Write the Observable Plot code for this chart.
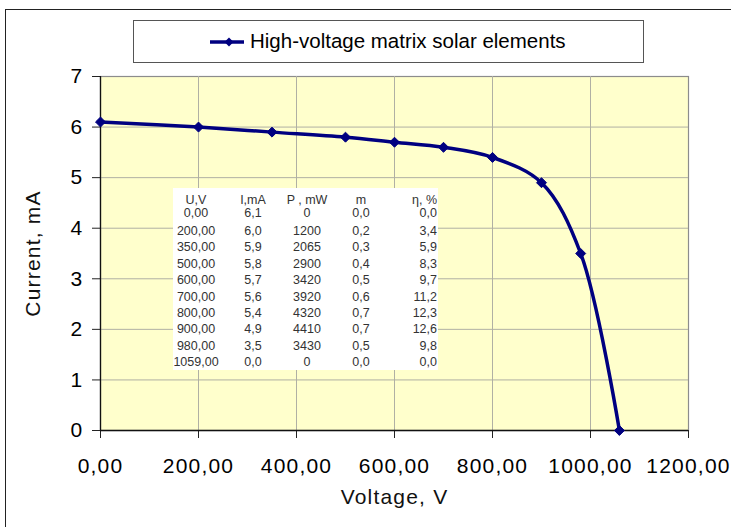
<!DOCTYPE html>
<html>
<head>
<meta charset="utf-8">
<script src="https://cdn.jsdelivr.net/npm/d3@7"></script>
<script src="https://cdn.jsdelivr.net/npm/@observablehq/plot@0.6"></script>
<style>
  html, body { margin: 0; padding: 0; background: #fff; }
  #chart { position: relative; width: 731px; height: 527px; overflow: hidden; font-family: "Liberation Sans", Arial, sans-serif; }
  #chart > svg { position: absolute; left: 0; top: 0; }
  #chart > svg g[aria-label="x-axis tick label"] text,
  #chart > svg g[aria-label="y-axis tick label"] text { letter-spacing: 1.2px; }
  #chart > svg g.title text { letter-spacing: 1.2px; }
  #frameline { position: absolute; left: 5px; top: 9px; width: 800px; height: 600px; border-left: 1.5px solid #222; border-top: 1.5px solid #222; }
  #legend { position: absolute; left: 133px; top: 20px; width: 509px; height: 41px; border: 1.5px solid #555; background: #fff; }
  #legend svg { position: absolute; left: 0; top: 0; }
  #legend span { position: absolute; left: 116px; top: 8px; font-size: 20.5px; color: #000; white-space: nowrap; }
  #table { position: absolute; left: 173px; top: 188px; width: 265px; height: 182px; background: #fff; font-size: 12.5px; color: #333; }
  #table div { position: absolute; white-space: nowrap; line-height: 12px; }
</style>
</head>
<body>
<div id="chart">
  <div id="frameline"></div>
</div>
<script>
// Measured I–V characteristic of the high-voltage matrix solar elements
const voltage = [0, 200, 350, 500, 600, 700, 800, 900, 980, 1059];
const current = [6.1, 6.0, 5.9, 5.8, 5.7, 5.6, 5.4, 4.9, 3.5, 0.0];
const power = [0, 1200, 2065, 2900, 3420, 3920, 4320, 4410, 3430, 0];
const fillFactor = [0.0, 0.2, 0.3, 0.4, 0.5, 0.6, 0.7, 0.7, 0.5, 0.0];
const efficiency = [0.0, 3.4, 5.9, 8.3, 9.7, 11.2, 12.3, 12.6, 9.8, 0.0];

const tableHeaders = ["U,V", "I,mA", "P , mW", "m", "η, %"];
const xTicks = [0, 200, 400, 600, 800, 1000, 1200];
const yTicks = [0, 1, 2, 3, 4, 5, 6, 7];
const seriesName = "High-voltage matrix solar elements";
const xTitle = "Voltage, V";
const yTitle = "Current, mA";

const navy = "#000080";
const comma = (v, digits) => v.toFixed(digits).replace(".", ",");

const data = voltage.map((u, i) => ({u, i: current[i]}));

const chart = Plot.plot({
  width: 731,
  height: 527,
  marginLeft: 100,
  marginRight: 43,
  marginTop: 76,
  marginBottom: 97,
  style: {background: "transparent", fontFamily: "Liberation Sans, Arial, sans-serif", color: "#000"},
  x: {domain: [0, 1200]},
  y: {domain: [0, 7]},
  marks: [
    Plot.frame({fill: "#FFFFCC", stroke: "#8c8c8c", strokeWidth: 1.2}),
    Plot.gridX(xTicks.slice(1, -1), {stroke: "#b0b0a4", strokeOpacity: 1}),
    Plot.gridY(yTicks.slice(1, -1), {stroke: "#b0b0a4", strokeOpacity: 1}),
    Plot.axisY(yTicks, {tickSize: 8, tickPadding: 9, fontSize: 21, label: null, stroke: "#222", tickFormat: d => String(d)}),
    Plot.axisX(xTicks, {tickSize: 8, tickPadding: 20, fontSize: 21, label: null, stroke: "#222", tickFormat: d => comma(d, 2)}),
    Plot.ruleX([0], {stroke: "#111", strokeWidth: 1.3}),
    Plot.ruleY([0], {stroke: "#111", strokeWidth: 1.3}),
    Plot.line(data, {x: "u", y: "i", stroke: navy, strokeWidth: 3.5, curve: "catmull-rom"}),
    Plot.dot(data, {x: "u", y: "i", symbol: "diamond2", r: 4.5, fill: navy, stroke: navy, strokeWidth: 1}),
    Plot.text([yTitle], {frameAnchor: "left", textAnchor: "middle", lineAnchor: "middle", dx: -67, rotate: -90, fontSize: 21, fill: "#111", className: "title"}),
    Plot.text([xTitle], {frameAnchor: "bottom", textAnchor: "middle", lineAnchor: "middle", dy: 67, fontSize: 21, fill: "#111", className: "title"})
  ]
});

const root = document.getElementById("chart");
root.appendChild(chart);

// Legend box with a line-and-diamond swatch
const legend = document.createElement("div");
legend.id = "legend";
legend.innerHTML =
  `<svg width="110" height="41"><line x1="76" y1="21" x2="114" y2="21" stroke="${navy}" stroke-width="3.5"/>` +
  `<path d="M95,16.5 L99.5,21 L95,25.5 L90.5,21 Z" fill="${navy}"/></svg>` +
  `<span>${seriesName}</span>`;
root.appendChild(legend);

// Data table drawn inside the plot area
const table = document.createElement("div");
table.id = "table";
const colCenters = [23, 80, 134, 188];
const lastColRight = 264;
const rowTops = [6, 19];
for (let k = 1; k < voltage.length; k++) rowTops.push(37 + (k - 1) * 16.4);
function cell(text, col, top) {
  const d = document.createElement("div");
  d.textContent = text;
  d.style.top = top + "px";
  if (col < 4) {
    d.style.left = colCenters[col] + "px";
    d.style.transform = "translateX(-50%)";
  } else {
    d.style.right = (265 - lastColRight) + "px";
  }
  table.appendChild(d);
}
tableHeaders.forEach((h, c) => cell(h, c, rowTops[0]));
voltage.forEach((u, k) => {
  const top = rowTops[k + 1];
  cell(comma(u, 2), 0, top);
  cell(comma(current[k], 1), 1, top);
  cell(String(power[k]), 2, top);
  cell(comma(fillFactor[k], 1), 3, top);
  cell(comma(efficiency[k], 1), 4, top);
});
root.appendChild(table);
</script>
</body>
</html>
